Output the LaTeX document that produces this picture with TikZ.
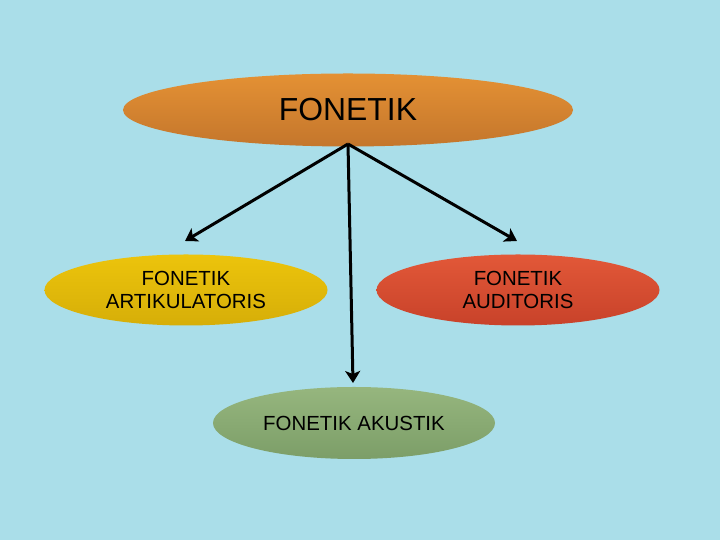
\documentclass[tikz,border=0pt]{standalone}
\usepackage{fontspec}
\setmainfont{Liberation Sans}
\usepackage{tikz}
\usetikzlibrary{arrows.meta,shapes.geometric}

\definecolor{water}{RGB}{170,222,233}
\definecolor{orangetop}{RGB}{228,145,52}
\definecolor{orangebot}{RGB}{196,118,44}
\definecolor{yellowtop}{RGB}{236,196,12}
\definecolor{yellowbot}{RGB}{214,174,8}
\definecolor{redtop}{RGB}{226,88,56}
\definecolor{redbot}{RGB}{200,66,42}
\definecolor{greentop}{RGB}{150,182,126}
\definecolor{greenbot}{RGB}{124,158,104}

\begin{document}
\begin{tikzpicture}[x=1bp,y=1bp]
	
	\tikzset{blob/.style = {shape=ellipse,inner sep=0pt,minimum width=283bp,minimum height=71bp,align=center,font=\fontsize{20.5}{23.5}\selectfont}}
	\tikzset{edge/.style = {-{Stealth[length=12bp,width=15bp,inset=3bp]},line width=3bp,black}}
	
	\fill[water] (0,0) rectangle (720,540);
	\useasboundingbox (0,0) rectangle (720,540);
	
	\node[blob,minimum width=450bp,minimum height=73bp,top color=orangetop,bottom color=orangebot,font=\fontsize{32}{38}\selectfont] (fon) at (348,430) {FONETIK};
	\node[blob,top color=yellowtop,bottom color=yellowbot] (art) at (186,250) {FONETIK\\ARTIKULATORIS};
	\node[blob,top color=redtop,bottom color=redbot] (aud) at (518,250) {FONETIK\\AUDITORIS};
	\node[blob,minimum width=282bp,minimum height=72bp,top color=greentop,bottom color=greenbot] (aku) at (354,117) {FONETIK AKUSTIK};
	
	\coordinate (start) at (348,396);
	\coordinate (artend) at (185,299);
	\coordinate (audend) at (517,299);
	\coordinate (akuend) at (353,157);
	
	\draw[edge] (start) to (artend);
	\draw[edge] (start) to (audend);
	\draw[edge] (start) to (akuend);
\end{tikzpicture}
\end{document}
